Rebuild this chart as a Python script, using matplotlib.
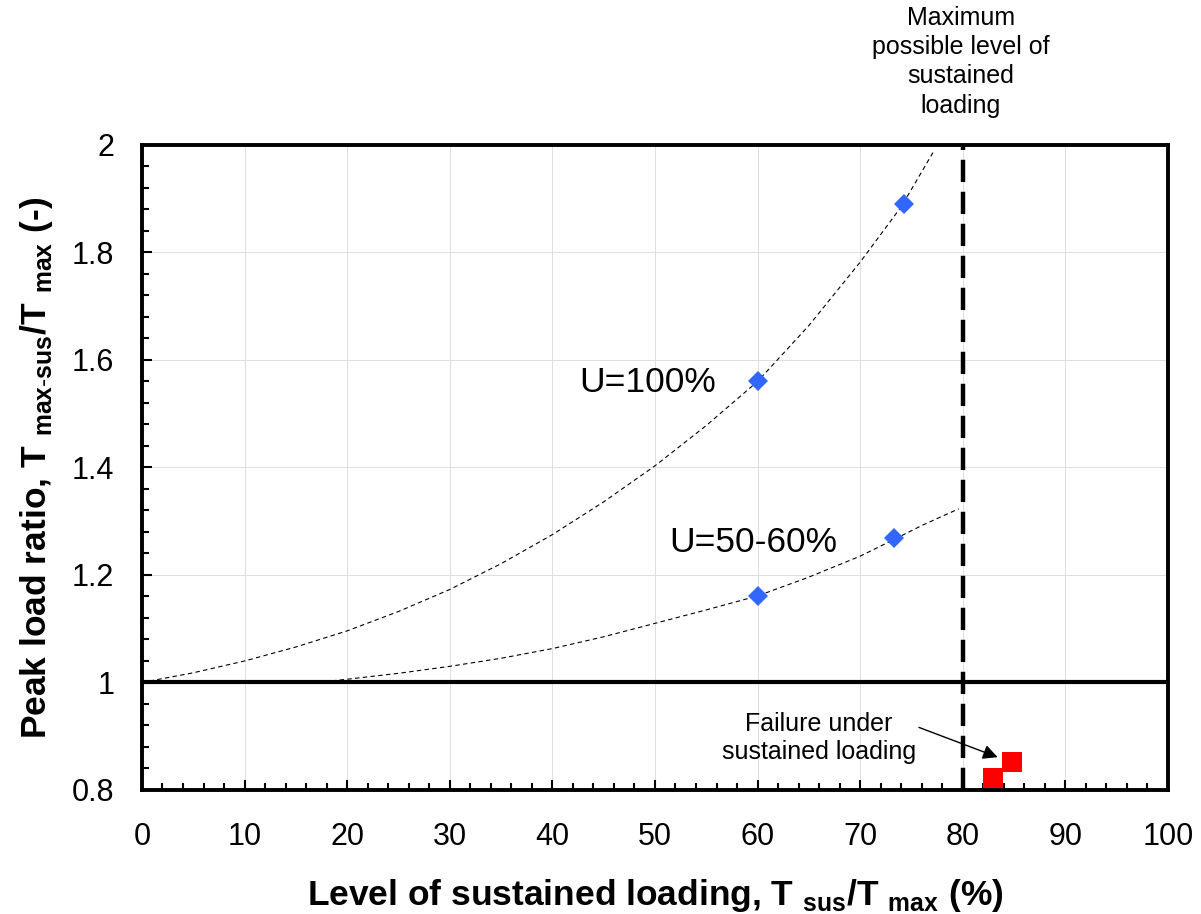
import matplotlib
matplotlib.use("Agg")
import matplotlib.pyplot as plt
from matplotlib.ticker import MultipleLocator, FuncFormatter

plt.rcParams['font.family'] = ['Liberation Sans', 'DejaVu Sans']
plt.rcParams['mathtext.fontset'] = 'custom'
plt.rcParams['mathtext.rm'] = 'Liberation Sans'
plt.rcParams['mathtext.bf'] = 'Liberation Sans:bold'

# measured points
u100_x = [60, 74.3]
u100_y = [1.56, 1.89]
u50_x = [60, 73.3]
u50_y = [1.161, 1.269]
fail_x = [82.9, 84.8]
fail_y = [0.822, 0.852]

# trendlines
trend100_x = [0, 5, 10, 15, 20, 25, 30, 35, 40, 45, 50, 55, 60, 65, 70, 74, 77.1]
trend100_y = [1.0, 1.018, 1.040, 1.066, 1.096, 1.132, 1.173, 1.221, 1.275, 1.336,
              1.403, 1.478, 1.56, 1.664, 1.782, 1.885, 1.986]
trend50_x = [17, 20, 25, 30, 35, 40, 45, 50, 55, 60, 65, 70, 73.3, 76, 79.6]
trend50_y = [1.0, 1.006, 1.017, 1.030, 1.045, 1.063, 1.085, 1.110, 1.135, 1.161,
             1.196, 1.235, 1.266, 1.292, 1.323]

max_level = 80

fig = plt.figure(figsize=(12.01, 9.14), dpi=100)
ax = fig.add_axes([0.1182, 0.1357, 0.8543, 0.7057])

ax.plot(trend100_x, trend100_y, color='black', lw=0.8, ls=(0, (4, 3)), zorder=3)
ax.plot(trend50_x, trend50_y, color='black', lw=0.8, ls=(0, (4, 3)), zorder=3)
ax.axhline(1, color='black', lw=3, zorder=2)
ax.plot([max_level, max_level], [0.8, 2.0], color='black', lw=3.2,
        ls=(0, (5, 2.2)), zorder=2, clip_on=False)

ax.plot(u100_x, u100_y, 'D', color='#3366ff', ms=10, mew=0, zorder=4)
ax.plot(u50_x, u50_y, 'D', color='#3366ff', ms=10, mew=0, zorder=4)
ax.plot(fail_x, fail_y, 's', color='#ff0000', ms=14.4, mew=0, zorder=4, clip_on=False)

ax.text(49.3, 1.559, 'U=100%', fontsize=25.5, ha='center', va='center')
ax.text(59.6, 1.26, 'U=50-60%', fontsize=25.5, ha='center', va='center')
ax.text(79.8, 2.155, 'Maximum\npossible level of\nsustained\nloading', fontsize=18,
        ha='center', va='center', linespacing=1.28)
ax.annotate('Failure under\nsustained loading', xy=(83.4, 0.861), xytext=(66.0, 0.897),
            fontsize=18, ha='center', va='center', linespacing=1.2,
            arrowprops=dict(arrowstyle='-|>', color='black', lw=1,
                            mutation_scale=22, shrinkA=0, shrinkB=0,
                            relpos=(0.98, 0.75)))

ax.set_xlim(0, 100)
ax.set_ylim(0.8, 2.0)
ax.xaxis.set_major_locator(MultipleLocator(10))
ax.xaxis.set_minor_locator(MultipleLocator(2))
ax.yaxis.set_major_locator(MultipleLocator(0.2))
ax.yaxis.set_minor_locator(MultipleLocator(0.04))
ax.yaxis.set_major_formatter(FuncFormatter(lambda v, p: '%g' % round(v, 2)))

ax.grid(True, which='major', color='#dedede', lw=0.7)
ax.set_axisbelow(True)
for s in ax.spines.values():
    s.set_linewidth(2.8)
ax.tick_params(which='both', direction='in', width=1.5, labelsize=22)
ax.tick_params(which='major', length=7.5)
ax.tick_params(which='minor', length=5)
ax.tick_params(axis='x', pad=23)
ax.tick_params(axis='y', pad=20)

ax.set_xlabel(r'Level of sustained loading, T $_{\mathbf{sus}}$/T $_{\mathbf{max}}$ (%)',
              fontsize=25.5, fontweight='bold', labelpad=18)
ax.set_ylabel(r'Peak load ratio, T $_{\mathbf{max\text{-}sus}}$/T $_{\mathbf{max}}$ (-)',
              fontsize=25.5, fontweight='bold', labelpad=12)

fig.savefig('out.png', dpi=100)
